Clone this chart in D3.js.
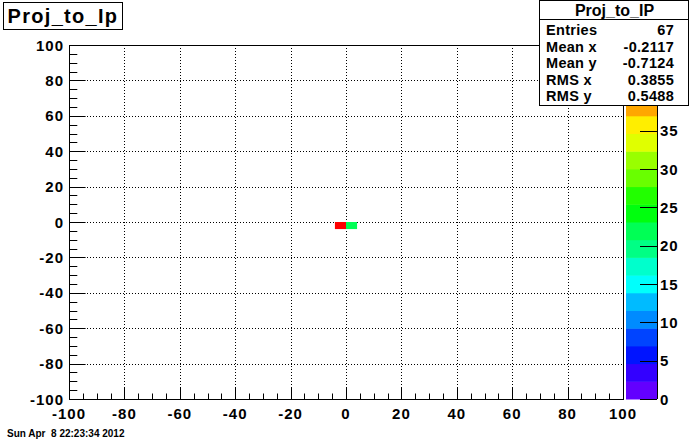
<!DOCTYPE html>
<html>
<head>
<meta charset="utf-8">
<script src="https://cdn.jsdelivr.net/npm/d3@7"></script>
<style>
  body { margin: 0; background: #fff; }
  svg { display: block; font-family: "Liberation Sans", Arial, sans-serif; font-weight: bold; }
</style>
</head>
<body>
<div id="my_dataviz"></div>
<script>
// histogram content: two filled bins (lower-left corner), bin size 4
const binX0 = [-4, 0];
const binY0 = [-4, -4];
const binCounts = [44, 23];
const binSize = 4;

// axis ticks
const axisTicks = [-100, -80, -60, -40, -20, 0, 20, 40, 60, 80, 100];
const zTicks = [0, 5, 10, 15, 20, 25, 30, 35];

// stats box
const statsTitle = "Proj_to_IP";
const statsLabels = ["Entries", "Mean x", "Mean y", "RMS x", "RMS y"];
const statsValues = ["67", "-0.2117", "-0.7124", "0.3855", "0.5488"];

const histTitle = "Proj_to_Ip";
const dateText = "Sun Apr  8 22:23:34 2012";

const W = 692, H = 444;
const frame = {left: 69, right: 623, top: 45, bottom: 399};
const pal = {left: 626, right: 657};
const nContours = 20;
const zMax = d3.max(binCounts) * 1.05;

const svg = d3.select("#my_dataviz")
  .append("svg")
    .attr("width", W)
    .attr("height", H);

svg.append("rect").attr("width", W).attr("height", H).attr("fill", "#fff");

// scales
const x = d3.scaleLinear().domain([-100, 100]).range([frame.left, frame.right]);
const y = d3.scaleLinear().domain([-100, 100]).range([frame.bottom, frame.top]);
const z = d3.scaleLinear().domain([0, zMax]).range([frame.bottom, frame.top]);

// ROOT "pretty" palette, 50 colours, 20 contours
function contourColor(k) {
  const idx = Math.floor((k + 0.99) * 50 / nContours);
  const hue = 280 - (idx + 1) * (280 / 50);
  return d3.hsl(hue, 1, 0.5).toString();
}

// grid (dotted)
const grid = svg.append("g").attr("stroke", "#000").attr("stroke-width", 1)
  .attr("stroke-dasharray", "1,2");
grid.selectAll(".gx").data(axisTicks.slice(1, -1)).join("line")
  .attr("x1", d => Math.round(x(d)) + 0.5).attr("x2", d => Math.round(x(d)) + 0.5)
  .attr("y1", frame.top).attr("y2", frame.bottom);
grid.selectAll(".gy").data(axisTicks.slice(1, -1)).join("line")
  .attr("y1", d => Math.round(y(d)) + 0.5).attr("y2", d => Math.round(y(d)) + 0.5)
  .attr("x1", frame.left).attr("x2", frame.right);

// bins
svg.selectAll(".bin").data(binCounts).join("rect")
  .attr("x", (d, i) => x(binX0[i]))
  .attr("y", (d, i) => y(binY0[i] + binSize))
  .attr("width", (d, i) => x(binX0[i] + binSize) - x(binX0[i]))
  .attr("height", (d, i) => y(binY0[i]) - y(binY0[i] + binSize))
  .attr("fill", d => contourColor(Math.min(nContours - 1, Math.floor(d / zMax * nContours))));

// frame
svg.append("rect")
  .attr("x", frame.left + 0.5).attr("y", frame.top + 0.5)
  .attr("width", frame.right - frame.left).attr("height", frame.bottom - frame.top)
  .attr("fill", "none").attr("stroke", "#000");

// axis ticks: majors every 20, minors every 5
const ax = svg.append("g").attr("stroke", "#000");
ax.selectAll(".mx").data(x.ticks(40)).join("line")
  .attr("x1", d => Math.round(x(d)) + 0.5).attr("x2", d => Math.round(x(d)) + 0.5)
  .attr("y1", frame.bottom).attr("y2", d => frame.bottom - (d % 20 === 0 ? 11 : 5.5));
ax.selectAll(".my").data(y.ticks(40)).join("line")
  .attr("y1", d => Math.round(y(d)) + 0.5).attr("y2", d => Math.round(y(d)) + 0.5)
  .attr("x1", frame.left).attr("x2", d => frame.left + (d % 20 === 0 ? 16.6 : 8.3));

svg.selectAll(".xl").data(axisTicks).join("text")
  .attr("x", d => x(d)).attr("y", frame.bottom + 20)
  .attr("text-anchor", "middle").attr("font-size", 15).attr("letter-spacing", 1)
  .text(d => d);
svg.selectAll(".yl").data(axisTicks).join("text")
  .attr("x", frame.left - 5).attr("y", d => y(d) + 5.5)
  .attr("text-anchor", "end").attr("font-size", 15).attr("letter-spacing", 1)
  .text(d => d);

// palette (colour scale)
svg.selectAll(".band").data(d3.range(nContours)).join("rect")
  .attr("x", pal.left).attr("width", pal.right - pal.left)
  .attr("y", k => z((k + 1) * zMax / nContours))
  .attr("height", k => z(k * zMax / nContours) - z((k + 1) * zMax / nContours) + 0.5)
  .attr("fill", k => contourColor(k));
svg.selectAll(".zt").data(zTicks).join("line")
  .attr("x1", pal.right - 17).attr("x2", pal.right)
  .attr("y1", d => Math.round(z(d)) + 0.5).attr("y2", d => Math.round(z(d)) + 0.5)
  .attr("stroke", "#000");
svg.append("line").attr("x1", pal.right + 0.5).attr("x2", pal.right + 0.5)
  .attr("y1", frame.top).attr("y2", frame.bottom).attr("stroke", "#000");
svg.selectAll(".zl").data(zTicks).join("text")
  .attr("x", pal.right + 3).attr("y", d => z(d) + 5.5)
  .attr("font-size", 15).attr("letter-spacing", 1)
  .text(d => d);

// stats box
const sb = {x: 539, y: 0.5, w: 149, h: 105};
svg.append("rect").attr("x", sb.x + 0.5).attr("y", sb.y).attr("width", sb.w).attr("height", sb.h)
  .attr("fill", "#fff").attr("stroke", "#000");
svg.append("line").attr("x1", sb.x).attr("x2", sb.x + sb.w).attr("y1", 19.5).attr("y2", 19.5)
  .attr("stroke", "#000");
svg.append("text").attr("x", sb.x + sb.w / 2 + 1).attr("y", 16)
  .attr("text-anchor", "middle").attr("font-size", 16).text(statsTitle);
const rowY = [35, 51.5, 68, 84.5, 101];
svg.selectAll(".sl").data(statsLabels).join("text")
  .attr("x", sb.x + 7).attr("y", (d, i) => rowY[i])
  .attr("font-size", 14.5).attr("letter-spacing", 0.3).text(d => d);
svg.selectAll(".sv").data(statsValues).join("text")
  .attr("x", sb.x + sb.w - 14).attr("y", (d, i) => rowY[i])
  .attr("text-anchor", "end").attr("font-size", 14.5).attr("letter-spacing", 0.3).text(d => d);

// title box
svg.append("rect").attr("x", 3.5).attr("y", 2.5).attr("width", 119).attr("height", 27)
  .attr("fill", "#fff").attr("stroke", "#000");
svg.append("text").attr("x", 63).attr("y", 23).attr("text-anchor", "middle")
  .attr("font-size", 20).attr("letter-spacing", 1.3).text(histTitle);

// date stamp
svg.append("text").attr("x", 7).attr("y", 437).attr("font-size", 10)
  .style("white-space", "pre").text(dateText);
</script>
</body>
</html>
